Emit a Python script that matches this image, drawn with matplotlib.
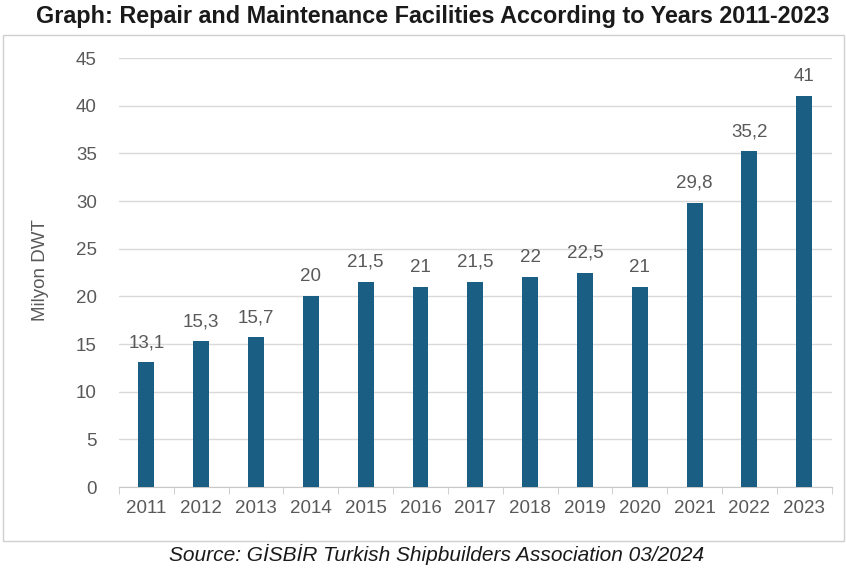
import matplotlib
matplotlib.use('Agg')
import matplotlib.pyplot as plt
from matplotlib.patches import Rectangle

plt.rcParams['font.family'] = ['Liberation Sans', 'DejaVu Sans']

years = ['2011', '2012', '2013', '2014', '2015', '2016', '2017',
         '2018', '2019', '2020', '2021', '2022', '2023']
capacity = [13.1, 15.3, 15.7, 20, 21.5, 21, 21.5, 22, 22.5, 21, 29.8, 35.2, 41]
value_labels = ['13,1', '15,3', '15,7', '20', '21,5', '21', '21,5',
                '22', '22,5', '21', '29,8', '35,2', '41']

bar_color = '#1A5E84'
text_color = '#595959'

fig = plt.figure(figsize=(8.46, 5.69), dpi=100)
ax = fig.add_axes([0.1407, 0.1441, 0.8423, 0.7539])

x = range(len(years))
bars = ax.bar(x, capacity, width=0.29, color=bar_color, zorder=3)

for xi, v, lab in zip(x, capacity, value_labels):
    ax.annotate(lab, (xi, v), xytext=(0, 8), textcoords='offset points',
                ha='center', va='bottom', fontsize=13.5, color=text_color)

ax.set_xlim(-0.5, len(years) - 0.5)
ax.set_ylim(0, 45)
ax.set_yticks(range(0, 46, 5))
ax.set_xticks(list(x))
ax.set_xticklabels(years)
ax.set_xticks([i + 0.5 for i in range(-1, len(years))], minor=True)
ax.tick_params(axis='x', which='major', length=0, pad=9, labelsize=13.5,
               labelcolor=text_color)
ax.tick_params(axis='x', which='minor', length=5, color='#C8C8C8')
ax.tick_params(axis='y', length=0, pad=16, labelsize=13.5, labelcolor=text_color)

ax.grid(axis='y', color='#D9D9D9', linewidth=1, zorder=0)
for side in ['top', 'right', 'left']:
    ax.spines[side].set_visible(False)
ax.spines['bottom'].set_color('#C8C8C8')

ax.set_ylabel('Milyon DWT', fontsize=13.5, color=text_color, labelpad=6)
ax.yaxis.set_label_coords(-0.098, 0.505)

# outer frame around the chart area
fig.patches.append(Rectangle((0.003, 1 - 541 / 569), 0.995, (541 - 35) / 569,
                             transform=fig.transFigure, fill=False,
                             edgecolor='#D0D0D0', linewidth=1))

fig.text(0.511, 1 - 16 / 569,
         'Graph: Repair and Maintenance Facilities According to Years 2011-2023',
         ha='center', va='center', fontsize=16.8, fontweight='bold', color='#1A1A1A')
fig.text(0.516, 1 - 554 / 569,
         'Source: GİSBİR Turkish Shipbuilders Association 03/2024',
         ha='center', va='center', fontsize=15, style='italic', color='#1A1A1A')

fig.savefig('out.png', dpi=100)
